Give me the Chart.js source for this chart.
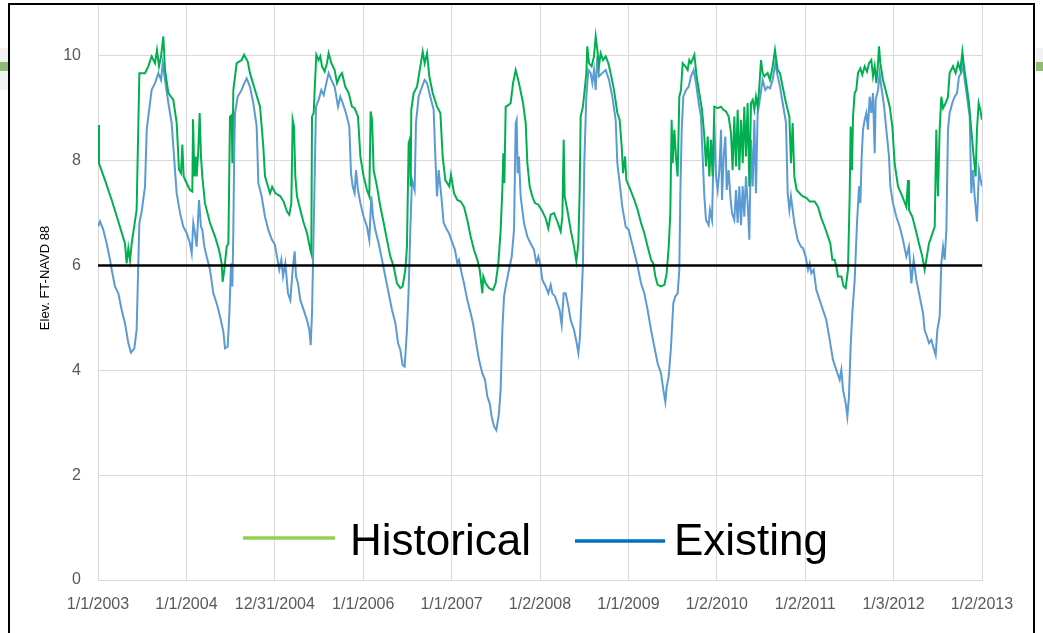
<!DOCTYPE html>
<html>
<head>
<meta charset="utf-8">
<script src="https://cdn.jsdelivr.net/npm/chart.js@4"></script>
<style>
  html, body { margin: 0; padding: 0; background: #fff; }
  canvas { display: block; }
</style>
</head>
<body>
<canvas id="chart" width="1043" height="633"></canvas>
<script>
// ---------- Data ----------
// x = years since 1/1/2003, y = elevation (ft NAVD 88)
const seriesNames = ["Historical", "Existing"];
const xLabels = ["1/1/2003", "1/1/2004", "12/31/2004", "1/1/2006", "1/1/2007", "1/2/2008",
                 "1/1/2009", "1/2/2010", "1/2/2011", "1/3/2012", "1/2/2013"];
const yTicks = [0, 2, 4, 6, 8, 10];
const yTitle = "Elev. FT-NAVD 88";
const thresholdLevel = 6;

const historical = [
  [0.000,8.68],[0.011,7.95],[0.079,7.63],[0.155,7.25],[0.230,6.84],[0.305,6.42],[0.324,6.04],[0.343,6.33],
  [0.362,6.10],[0.381,6.42],[0.437,7.06],[0.468,9.67],[0.532,9.67],[0.569,9.80],[0.607,9.99],[0.645,9.86],
  [0.667,10.11],[0.690,9.80],[0.713,9.99],[0.739,10.37],[0.758,9.73],[0.796,9.29],[0.852,9.16],[0.890,8.72],
  [0.916,7.83],[0.939,7.76],[0.954,8.31],[0.969,7.70],[1.003,7.57],[1.041,7.44],[1.067,7.41],[1.075,8.79],
  [1.090,7.70],[1.105,8.08],[1.116,7.70],[1.135,8.21],[1.150,8.91],[1.165,8.08],[1.180,7.70],[1.210,7.19],
  [1.267,6.81],[1.324,6.55],[1.369,6.30],[1.399,6.04],[1.410,5.69],[1.429,5.92],[1.444,6.17],[1.456,6.36],
  [1.475,6.42],[1.493,8.84],[1.512,8.87],[1.520,7.95],[1.531,9.35],[1.569,9.86],[1.625,9.92],[1.652,10.02],
  [1.694,9.89],[1.719,9.67],[1.776,9.35],[1.833,9.03],[1.870,8.27],[1.889,7.70],[1.946,7.38],[1.970,7.50],
  [2.006,7.38],[2.063,7.32],[2.100,7.22],[2.138,7.03],[2.164,6.97],[2.187,7.19],[2.202,8.78],[2.217,8.65],
  [2.232,7.70],[2.251,7.32],[2.289,7.06],[2.327,6.81],[2.364,6.62],[2.402,6.30],[2.413,6.23],[2.421,8.84],
  [2.440,8.91],[2.451,9.35],[2.470,10.02],[2.496,9.92],[2.515,9.99],[2.534,9.80],[2.564,9.70],[2.590,9.86],
  [2.609,10.05],[2.640,9.86],[2.677,9.73],[2.704,9.48],[2.734,9.61],[2.760,9.67],[2.798,9.41],[2.836,9.29],
  [2.873,9.03],[2.903,9.00],[2.941,8.84],[2.968,8.08],[3.005,7.70],[3.043,7.44],[3.069,7.32],[3.084,8.94],
  [3.100,8.78],[3.118,7.82],[3.156,7.51],[3.194,7.12],[3.232,6.81],[3.269,6.49],[3.307,6.17],[3.345,5.98],
  [3.382,5.66],[3.420,5.57],[3.446,5.60],[3.477,5.92],[3.495,6.36],[3.514,8.33],[3.526,8.40],[3.537,7.51],
  [3.544,8.97],[3.571,9.29],[3.609,9.41],[3.646,9.80],[3.673,10.08],[3.695,9.86],[3.722,10.05],[3.748,9.61],
  [3.786,9.29],[3.835,9.03],[3.873,8.91],[3.899,8.08],[3.929,7.63],[3.974,7.51],[3.993,7.73],[4.027,7.38],
  [4.065,7.25],[4.103,7.22],[4.140,7.12],[4.178,6.87],[4.216,6.55],[4.253,6.30],[4.291,6.11],[4.318,5.92],
  [4.348,5.47],[4.359,5.79],[4.385,5.66],[4.423,5.57],[4.468,5.53],[4.498,5.66],[4.529,6.04],[4.555,6.68],
  [4.574,7.44],[4.585,8.14],[4.597,7.57],[4.612,9.03],[4.642,9.06],[4.668,9.10],[4.695,9.48],[4.725,9.73],
  [4.762,9.48],[4.808,9.10],[4.838,8.72],[4.857,7.95],[4.883,7.51],[4.913,7.32],[4.943,7.19],[4.981,7.16],
  [5.019,7.06],[5.064,6.90],[5.094,6.71],[5.121,6.97],[5.158,7.00],[5.196,6.84],[5.234,6.65],[5.253,6.93],
  [5.268,8.40],[5.279,7.32],[5.309,7.06],[5.347,6.68],[5.385,6.36],[5.411,6.08],[5.434,6.42],[5.449,7.44],
  [5.460,8.84],[5.486,9.03],[5.509,9.41],[5.524,9.67],[5.535,10.18],[5.554,9.86],[5.584,9.80],[5.611,9.99],
  [5.630,10.37],[5.649,10.11],[5.667,9.80],[5.686,10.05],[5.713,9.92],[5.743,9.99],[5.773,9.86],[5.799,9.67],
  [5.837,9.35],[5.875,8.91],[5.901,8.78],[5.924,8.27],[5.939,7.76],[5.962,8.08],[5.977,7.63],[6.029,7.42],
  [6.067,7.25],[6.105,7.06],[6.143,6.81],[6.180,6.62],[6.218,6.36],[6.256,6.11],[6.282,6.04],[6.305,5.79],
  [6.331,5.63],[6.369,5.60],[6.407,5.63],[6.433,5.85],[6.456,6.36],[6.474,6.99],[6.489,8.78],[6.501,7.95],
  [6.520,8.59],[6.538,8.08],[6.557,7.70],[6.576,9.22],[6.595,9.35],[6.614,9.86],[6.644,9.80],[6.670,9.73],
  [6.689,9.92],[6.708,9.86],[6.746,10.02],[6.772,9.61],[6.802,9.29],[6.833,8.97],[6.859,8.46],[6.878,7.89],
  [6.897,8.46],[6.916,7.70],[6.934,8.40],[6.953,7.70],[6.972,9.03],[7.010,9.00],[7.048,9.03],[7.074,8.97],
  [7.104,8.94],[7.134,8.84],[7.161,8.52],[7.179,7.82],[7.198,8.84],[7.217,7.89],[7.236,8.97],[7.255,7.82],
  [7.274,8.78],[7.293,7.95],[7.311,9.03],[7.330,8.08],[7.349,9.10],[7.368,7.51],[7.387,9.10],[7.406,9.16],
  [7.425,8.97],[7.443,9.22],[7.462,9.03],[7.481,9.41],[7.500,9.92],[7.519,9.67],[7.538,9.61],[7.575,9.67],
  [7.602,9.54],[7.632,9.80],[7.658,10.11],[7.689,9.73],[7.715,9.67],[7.745,9.41],[7.783,9.10],[7.821,8.84],
  [7.839,7.95],[7.858,8.72],[7.877,7.70],[7.903,7.44],[7.952,7.35],[7.975,7.32],[8.013,7.29],[8.051,7.22],
  [8.107,7.22],[8.145,7.12],[8.183,6.90],[8.220,6.74],[8.258,6.55],[8.284,6.42],[8.307,6.11],[8.333,6.11],
  [8.352,5.98],[8.371,5.79],[8.409,5.79],[8.435,5.60],[8.458,5.57],[8.484,5.92],[8.503,7.32],[8.514,8.65],
  [8.529,7.82],[8.541,8.84],[8.560,9.29],[8.578,9.35],[8.597,9.67],[8.624,9.76],[8.646,9.64],[8.673,9.80],
  [8.699,9.70],[8.722,9.86],[8.748,9.92],[8.767,9.61],[8.786,9.80],[8.805,9.48],[8.824,9.86],[8.835,10.18],
  [8.850,9.86],[8.880,9.54],[8.918,9.29],[8.956,9.03],[8.986,8.65],[9.012,7.95],[9.050,7.51],[9.099,7.32],
  [9.144,7.12],[9.163,7.63],[9.174,7.06],[9.212,6.93],[9.250,6.68],[9.287,6.42],[9.325,6.17],[9.351,5.92],
  [9.370,6.11],[9.400,6.42],[9.427,6.55],[9.465,6.74],[9.483,8.59],[9.502,7.32],[9.521,8.59],[9.540,9.22],
  [9.559,9.00],[9.589,9.10],[9.615,9.22],[9.634,9.67],[9.672,9.80],[9.702,9.67],[9.729,9.86],[9.755,9.73],
  [9.778,10.08],[9.796,9.80],[9.823,9.48],[9.853,9.10],[9.879,8.59],[9.906,8.08],[9.928,7.70],[9.943,8.59],
  [9.962,9.10],[9.981,8.97],[10.000,8.78]
];

const existing = [
  [0.000,6.74],[0.023,6.84],[0.060,6.68],[0.098,6.42],[0.136,6.11],[0.155,5.92],[0.192,5.60],[0.230,5.47],
  [0.268,5.15],[0.305,4.90],[0.343,4.52],[0.373,4.34],[0.411,4.42],[0.437,4.77],[0.456,6.04],[0.468,6.81],
  [0.494,7.03],[0.532,7.51],[0.551,8.59],[0.569,8.84],[0.607,9.35],[0.645,9.48],[0.683,9.67],[0.713,9.54],
  [0.732,9.86],[0.758,9.54],[0.796,9.10],[0.833,8.72],[0.871,7.82],[0.890,7.38],[0.928,7.00],[0.965,6.74],
  [1.003,6.62],[1.041,6.42],[1.060,6.23],[1.078,6.81],[1.097,6.62],[1.116,6.36],[1.143,7.25],[1.165,6.74],
  [1.180,6.68],[1.203,6.36],[1.229,6.17],[1.267,5.92],[1.305,5.47],[1.342,5.28],[1.380,5.03],[1.418,4.74],
  [1.437,4.42],[1.467,4.45],[1.486,5.09],[1.505,6.04],[1.520,5.60],[1.531,6.68],[1.542,8.27],[1.550,8.91],
  [1.580,9.22],[1.625,9.35],[1.655,9.48],[1.682,9.57],[1.719,9.41],[1.757,9.10],[1.795,8.65],[1.814,7.57],
  [1.851,7.32],[1.889,6.93],[1.927,6.68],[1.965,6.50],[2.000,6.40],[2.025,6.17],[2.051,5.92],[2.074,6.11],
  [2.093,5.79],[2.119,6.04],[2.149,5.47],[2.176,5.34],[2.202,5.92],[2.225,6.27],[2.240,5.79],[2.262,5.66],
  [2.289,5.34],[2.327,5.15],[2.364,4.96],[2.391,4.77],[2.406,4.48],[2.421,5.09],[2.436,6.36],[2.447,7.32],
  [2.466,9.03],[2.496,9.16],[2.526,9.35],[2.553,9.25],[2.583,9.48],[2.609,9.67],[2.640,9.54],[2.677,9.41],
  [2.715,9.03],[2.741,9.22],[2.768,9.10],[2.805,8.91],[2.843,8.65],[2.862,7.76],[2.881,7.51],[2.903,7.38],
  [2.919,7.82],[2.941,7.44],[2.968,7.19],[3.005,6.93],[3.043,6.74],[3.069,6.49],[3.092,7.32],[3.111,6.93],
  [3.137,6.68],[3.175,6.42],[3.213,6.11],[3.250,5.79],[3.288,5.47],[3.326,5.15],[3.364,4.90],[3.394,4.52],
  [3.420,4.39],[3.446,4.10],[3.469,4.07],[3.495,4.77],[3.514,5.53],[3.533,6.68],[3.552,7.63],[3.582,7.44],
  [3.597,8.72],[3.627,9.22],[3.665,9.41],[3.695,9.54],[3.722,9.48],[3.759,9.22],[3.797,8.97],[3.816,8.08],
  [3.835,7.32],[3.854,7.82],[3.884,7.32],[3.910,6.81],[3.948,6.68],[3.975,6.60],[4.005,6.45],[4.038,6.30],
  [4.065,6.04],[4.084,6.11],[4.114,5.85],[4.140,5.66],[4.178,5.34],[4.216,5.09],[4.242,4.90],[4.272,4.58],
  [4.310,4.20],[4.348,3.94],[4.378,3.82],[4.404,3.50],[4.431,3.37],[4.453,3.12],[4.480,2.93],[4.506,2.86],
  [4.536,3.18],[4.555,3.63],[4.574,4.77],[4.593,5.41],[4.619,5.66],[4.649,5.92],[4.680,6.17],[4.706,6.68],
  [4.725,8.72],[4.736,8.78],[4.747,7.76],[4.762,8.08],[4.781,7.32],[4.819,6.81],[4.857,6.55],[4.894,6.42],
  [4.932,6.30],[4.959,6.04],[4.981,6.17],[5.008,5.98],[5.026,5.73],[5.064,5.60],[5.094,5.47],[5.121,5.63],
  [5.139,5.47],[5.170,5.41],[5.196,5.28],[5.222,5.15],[5.245,4.87],[5.268,5.47],[5.290,5.47],[5.321,5.22],
  [5.347,4.96],[5.385,4.77],[5.415,4.52],[5.434,4.33],[5.452,4.64],[5.471,5.41],[5.486,6.04],[5.501,7.95],
  [5.524,9.22],[5.547,9.73],[5.573,9.67],[5.592,9.48],[5.611,9.73],[5.630,9.35],[5.649,9.99],[5.667,9.61],
  [5.705,9.67],[5.743,9.73],[5.781,9.54],[5.818,9.22],[5.856,8.78],[5.875,7.95],[5.901,7.57],[5.931,7.12],
  [5.970,6.74],[6.003,6.68],[6.041,6.42],[6.078,6.17],[6.105,5.98],[6.143,5.66],[6.180,5.47],[6.218,5.15],
  [6.256,4.77],[6.293,4.45],[6.331,4.13],[6.369,3.94],[6.395,3.63],[6.418,3.40],[6.433,3.69],[6.456,3.88],
  [6.482,4.45],[6.508,5.28],[6.531,5.41],[6.557,5.47],[6.576,5.92],[6.587,7.32],[6.603,8.59],[6.621,9.22],
  [6.652,9.35],[6.682,9.41],[6.708,9.61],[6.738,9.73],[6.765,9.48],[6.795,9.10],[6.821,8.84],[6.840,8.08],
  [6.859,7.32],[6.878,6.87],[6.908,6.77],[6.923,7.06],[6.946,6.87],[6.961,7.95],[6.972,8.72],[6.991,7.70],
  [7.010,7.44],[7.029,7.82],[7.048,8.59],[7.059,7.25],[7.078,8.08],[7.097,8.46],[7.112,7.44],[7.134,7.82],
  [7.153,7.32],[7.172,7.00],[7.198,6.87],[7.217,7.44],[7.236,6.81],[7.255,7.51],[7.274,6.77],[7.293,7.51],
  [7.311,6.93],[7.330,7.70],[7.349,7.19],[7.368,6.49],[7.387,8.40],[7.406,7.51],[7.425,8.78],[7.443,7.38],
  [7.462,8.91],[7.481,9.10],[7.519,9.54],[7.549,9.35],[7.575,9.41],[7.602,9.38],[7.632,9.54],[7.662,9.86],
  [7.689,9.61],[7.715,9.41],[7.745,9.10],[7.783,8.72],[7.802,7.38],[7.821,7.06],[7.839,7.32],[7.877,6.81],
  [7.915,6.49],[7.952,6.36],[7.975,6.33],[8.005,6.17],[8.032,5.92],[8.051,6.04],[8.069,5.85],[8.096,5.92],
  [8.126,5.53],[8.164,5.34],[8.201,5.15],[8.239,4.96],[8.277,4.58],[8.314,4.20],[8.352,4.01],[8.390,3.82],
  [8.409,4.01],[8.428,3.63],[8.458,3.37],[8.477,3.12],[8.495,3.50],[8.514,4.45],[8.533,5.09],[8.560,5.73],
  [8.586,6.81],[8.609,7.51],[8.624,7.19],[8.639,8.08],[8.654,8.59],[8.673,8.78],[8.692,8.91],[8.710,8.59],
  [8.729,9.22],[8.748,8.91],[8.767,9.29],[8.786,8.14],[8.797,9.16],[8.824,9.35],[8.842,9.67],[8.861,9.41],
  [8.888,9.10],[8.918,8.59],[8.948,8.08],[8.963,7.51],[8.993,7.19],[9.031,6.93],[9.069,6.74],[9.106,6.49],
  [9.144,6.17],[9.174,6.36],[9.201,5.66],[9.227,6.11],[9.257,5.73],[9.295,5.41],[9.333,5.09],[9.351,4.77],
  [9.378,4.64],[9.400,4.52],[9.427,4.58],[9.453,4.42],[9.476,4.29],[9.495,4.77],[9.521,5.03],[9.540,6.04],
  [9.559,6.36],[9.578,6.11],[9.597,6.68],[9.615,8.59],[9.634,8.91],[9.664,9.10],[9.691,9.22],[9.717,9.29],
  [9.740,9.61],[9.766,9.67],[9.785,9.86],[9.804,9.54],[9.830,9.22],[9.861,8.84],[9.879,7.38],[9.898,7.82],
  [9.917,7.32],[9.943,6.84],[9.966,7.82],[9.985,7.63],[10.000,7.51]
];

// ---------- Styles ----------
const lineColors = ["#00b050", "#5b9bd5"];
const legendColors = ["#92d050", "#0070c0"];
const textColor = "#595959";
const gridColor = "#d9d9d9";

const toPoints = arr => arr.map(p => ({ x: p[0], y: p[1] }));

// slide frame, chart border, axis title and the in-plot legend
const framePlugin = {
    id: "frame",
    beforeDraw(chart) {
        const c = chart.ctx;
        c.save();
        c.fillStyle = "#ffffff";
        c.fillRect(0, 0, chart.width, chart.height);
        // bits of the slide behind the chart
        c.fillStyle = "#f2f2f2";
        c.fillRect(0, 48, 8, 42);
        c.fillRect(1036, 48, 7, 14);
        c.fillStyle = "#8fbc72";
        c.fillRect(0, 62, 8, 9);
        c.fillRect(1036, 62, 7, 9);
        c.restore();
    },
    afterDatasetsDraw(chart) {
        const c = chart.ctx;
        c.save();
        // legend
        const items = [
            { x1: 243, x2: 335, y: 538, tx: 350 },
            { x1: 575, x2: 665, y: 541, tx: 674 }
        ];
        c.font = "44px 'Liberation Sans', Arial, sans-serif";
        c.textBaseline = "alphabetic";
        c.textAlign = "left";
        items.forEach((it, i) => {
            c.strokeStyle = legendColors[i];
            c.lineWidth = 3.5;
            c.beginPath();
            c.moveTo(it.x1, it.y);
            c.lineTo(it.x2, it.y);
            c.stroke();
            c.fillStyle = "#000000";
            c.fillText(seriesNames[i], it.tx, 555);
        });
        // y axis title
        c.translate(45, 278);
        c.rotate(-Math.PI / 2);
        c.font = "13px 'Liberation Sans', Arial, sans-serif";
        c.fillStyle = "#000000";
        c.textAlign = "center";
        c.textBaseline = "middle";
        c.fillText(yTitle, 0, 0);
        c.restore();
    },
    afterDraw(chart) {
        const c = chart.ctx;
        c.save();
        c.strokeStyle = "#000000";
        c.lineWidth = 2;
        c.beginPath();
        c.moveTo(9, 640);
        c.lineTo(9, 4);
        c.lineTo(1034, 4);
        c.lineTo(1034, 640);
        c.stroke();
        c.restore();
    }
};

// ---------- Chart ----------
new Chart(document.getElementById("chart"), {
    type: "line",
    data: {
        datasets: [
            {
                label: seriesNames[0],
                data: toPoints(historical),
                borderColor: lineColors[0],
                borderWidth: 2,
                pointRadius: 0,
                tension: 0,
                order: 1
            },
            {
                label: seriesNames[1],
                data: toPoints(existing),
                borderColor: lineColors[1],
                borderWidth: 2,
                pointRadius: 0,
                tension: 0,
                order: 2
            },
            {
                label: "threshold",
                data: [{ x: 0, y: thresholdLevel }, { x: xLabels.length - 1, y: thresholdLevel }],
                borderColor: "#000000",
                borderWidth: 2.5,
                pointRadius: 0,
                order: 0
            }
        ]
    },
    options: {
        responsive: false,
        animation: false,
        layout: { padding: { top: 5, right: 61, left: 0, bottom: 0 } },
        plugins: {
            legend: { display: false },
            tooltip: { enabled: false }
        },
        scales: {
            x: {
                type: "linear",
                min: 0,
                max: xLabels.length - 1,
                afterBuildTicks: s => { s.ticks = xLabels.map((_, i) => ({ value: i })); },
                afterFit: s => { s.height = 53; },
                grid: { color: gridColor, drawTicks: false },
                border: { color: gridColor },
                ticks: {
                    autoSkip: false,
                    maxRotation: 0,
                    padding: 15,
                    color: textColor,
                    font: { family: "'Liberation Sans', Arial, sans-serif", size: 16 },
                    callback: v => xLabels[Math.round(v)]
                }
            },
            y: {
                min: 0,
                max: 10.97,
                afterBuildTicks: s => { s.ticks = yTicks.map(v => ({ value: v })); },
                afterFit: s => { s.width = 98; s.paddingTop = 0; s.paddingBottom = 0; },
                grid: { color: gridColor, drawTicks: false },
                border: { color: gridColor },
                ticks: {
                    padding: 17,
                    color: textColor,
                    font: { family: "'Liberation Sans', Arial, sans-serif", size: 16, lineHeight: 0.5 }
                }
            }
        }
    },
    plugins: [framePlugin]
});
</script>
</body>
</html>
